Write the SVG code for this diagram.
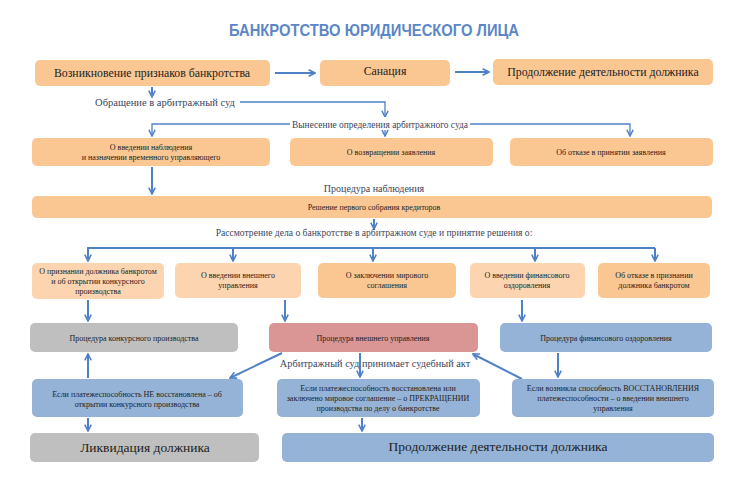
<svg xmlns="http://www.w3.org/2000/svg" width="730" height="490" viewBox="0 0 730 490">
<defs>
<marker id="ah" viewBox="0 0 10 10" refX="9" refY="5" markerWidth="4" markerHeight="4" orient="auto"><path d="M1,1 L9,5 L1,9" fill="none" stroke="#4f81c7" stroke-width="2"/></marker>
<marker id="ahs" viewBox="0 0 10 10" refX="9" refY="5" markerWidth="6" markerHeight="6" orient="auto"><path d="M1,1 L9,5 L1,9" fill="none" stroke="#4f81c7" stroke-width="2"/></marker>
<style>
.or{fill:#fac792}
.lp{fill:#fcd5b0}
.gr{fill:#bfbfbf}
.rd{fill:#d99694}
.bl{fill:#95b3d7}
.t{font-family:"Liberation Serif",serif;fill:#222;text-anchor:middle}
.s{font-size:8px}
.m{font-size:11.8px}
.big{font-size:13.5px}
.lab{font-family:"Liberation Serif",serif;fill:#3a4660;text-anchor:middle}
.th{fill:none;stroke:#4f81c7;stroke-width:2}
.tn{fill:none;stroke:#4f81c7;stroke-width:1.3}
</style>
</defs>
<rect width="730" height="490" fill="#fff"/>
<text x="374" y="36" font-family="Liberation Sans Narrow,Liberation Sans,sans-serif" font-weight="bold" font-size="17" fill="#5b87c7" text-anchor="middle" textLength="290" lengthAdjust="spacingAndGlyphs">БАНКРОТСТВО ЮРИДИЧЕСКОГО ЛИЦА</text>

<g id="n1"><rect class="or" x="35" y="60" width="235" height="26" rx="5"/><text class="t m" x="152" y="77">Возникновение признаков банкротства</text></g>
<g id="n2"><rect class="or" x="320" y="60" width="130" height="26" rx="5"/><text class="t m" x="385" y="75">Санация</text></g>
<g id="n3"><rect class="or" x="493" y="59" width="220" height="26" rx="5"/><text class="t m" x="603" y="76">Продолжение деятельности должника</text></g>

<g id="connectors">
<path class="th" d="M275,73 H315" marker-end="url(#ah)"/>
<path class="th" d="M455,72 H489" marker-end="url(#ah)"/>
<path class="th" d="M152,87 V97" marker-end="url(#ah)"/>
<path class="tn" d="M240,102 H385 V117" marker-end="url(#ahs)"/>
<path class="tn" d="M290,124 H152 V136" marker-end="url(#ahs)"/>
<path class="tn" d="M470,124 H630 V136" marker-end="url(#ahs)"/>
<path class="tn" d="M385,127 V136" marker-end="url(#ahs)"/>
<path class="th" d="M152,167 V194" marker-end="url(#ah)"/>
<path class="th" d="M374,219 V229" marker-end="url(#ah)"/>
<path class="th" d="M87,248 H655"/>
<path class="th" d="M88,248 V261" marker-end="url(#ah)"/>
<path class="th" d="M233,248 V261" marker-end="url(#ah)"/>
<path class="th" d="M373,248 V261" marker-end="url(#ah)"/>
<path class="th" d="M535,248 V261" marker-end="url(#ah)"/>
<path class="th" d="M655,248 V261" marker-end="url(#ah)"/>
<path class="th" d="M88,300 V321" marker-end="url(#ah)"/>
<path class="th" d="M285,300 V321" marker-end="url(#ah)"/>
<path class="th" d="M522,300 V321" marker-end="url(#ah)"/>
<path class="th" d="M360,353 V377" marker-end="url(#ah)"/>
<path class="th" d="M282,353 L230,378" marker-end="url(#ah)"/>
<path class="th" d="M522,379 L473,354" marker-end="url(#ah)"/>
<path class="th" d="M558,353 V377" marker-end="url(#ah)"/>
<path class="th" d="M88,378 V354" marker-end="url(#ah)"/>
<path class="th" d="M88,418 V431" marker-end="url(#ah)"/>
<path class="th" d="M362,418 V431" marker-end="url(#ah)"/>
</g>

<g id="l1"><text class="lab" font-size="10.5" x="165" y="106">Обращение в арбитражный суд</text></g>
<g id="l2"><rect x="291" y="117" width="178" height="13" fill="#fff"/><text class="lab" font-size="9.8" x="380" y="128" textLength="176" lengthAdjust="spacingAndGlyphs">Вынесение определения арбитражного суда</text></g>

<g id="n4"><rect class="or" x="32" y="138" width="238" height="28" rx="5"/><text class="t s" x="151" y="150">О введении наблюдения</text><text class="t s" x="151" y="160">и назначении временного управляющего</text></g>
<g id="n5"><rect class="or" x="290" y="138" width="203" height="28" rx="5"/><text class="t s" x="391" y="155">О возвращении заявления</text></g>
<g id="n6"><rect class="or" x="510" y="138" width="203" height="28" rx="5"/><text class="t s" x="611" y="155">Об отказе в принятии заявления</text></g>

<g id="l3"><text class="lab" font-size="10" x="374" y="192">Процедура наблюдения</text></g>
<g id="n7"><rect class="or" x="32" y="196" width="680" height="22" rx="5"/><text class="t s" x="374" y="210">Решение первого собрания кредиторов</text></g>
<g id="l4"><text class="lab" font-size="9.6" x="374" y="236">Рассмотрение дела о банкротстве в арбитражном суде и принятие решения о:</text></g>

<g id="n8"><rect class="lp" x="32" y="263" width="132" height="36" rx="5"/><text class="t s" x="98" y="274">О признании должника банкротом</text><text class="t s" x="98" y="284">и об открытии конкурсного</text><text class="t s" x="98" y="294">производства</text></g>
<g id="n9"><rect class="lp" x="175" y="263" width="126" height="35" rx="5"/><text class="t s" x="238" y="278">О введении внешнего</text><text class="t s" x="238" y="288">управления</text></g>
<g id="n10"><rect class="or" x="318" y="263" width="138" height="35" rx="5"/><text class="t s" x="387" y="278">О заключении мирового</text><text class="t s" x="387" y="288">соглашения</text></g>
<g id="n11"><rect class="lp" x="470" y="263" width="115" height="35" rx="5"/><text class="t s" x="527" y="278">О введении финансового</text><text class="t s" x="527" y="288">оздоровления</text></g>
<g id="n12"><rect class="or" x="598" y="263" width="112" height="35" rx="5"/><text class="t s" x="654" y="278">Об отказе в признании</text><text class="t s" x="654" y="288">должника банкротом</text></g>

<g id="n13"><rect class="gr" x="30" y="323" width="208" height="29" rx="5"/><text class="t s" x="134" y="341">Процедура конкурсного производства</text></g>
<g id="n14"><rect class="rd" x="269" y="323" width="209" height="29" rx="5"/><text class="t s" x="373" y="341">Процедура внешнего управления</text></g>
<g id="n15"><rect class="bl" x="500" y="323" width="212" height="29" rx="5"/><text class="t s" x="606" y="341">Процедура финансового оздоровления</text></g>

<g id="l5"><text class="lab" font-size="10.3" x="375" y="367">Арбитражный суд  принимает судебный акт</text></g>

<g id="n16"><rect class="bl" x="32" y="379" width="211" height="38" rx="5"/><text class="t s" x="137" y="397">Если платежеспособность НЕ восстановлена – об</text><text class="t s" x="137" y="407">открытии конкурсного производства</text></g>
<g id="n17"><rect class="bl" x="277" y="379" width="203" height="38" rx="5"/><text class="t s" x="378" y="391">Если платежеспособность восстановлена или</text><text class="t s" x="378" y="401">заключено мировое соглашение – о ПРЕКРАЩЕНИИ</text><text class="t s" x="378" y="411">производства по делу о банкротстве</text></g>
<g id="n18"><rect class="bl" x="512" y="379" width="202" height="38" rx="5"/><text class="t s" x="613" y="391">Если возникла способность ВОССТАНОВЛЕНИЯ</text><text class="t s" x="613" y="401">платежеспособности – о введении внешнего</text><text class="t s" x="613" y="411">управления</text></g>

<g id="n19"><rect class="gr" x="30" y="433" width="229" height="29" rx="5"/><text class="t big" x="145" y="452">Ликвидация должника</text></g>
<g id="n20"><rect class="bl" x="282" y="433" width="432" height="29" rx="5"/><text class="t big" x="498" y="451">Продолжение деятельности должника</text></g>
</svg>
